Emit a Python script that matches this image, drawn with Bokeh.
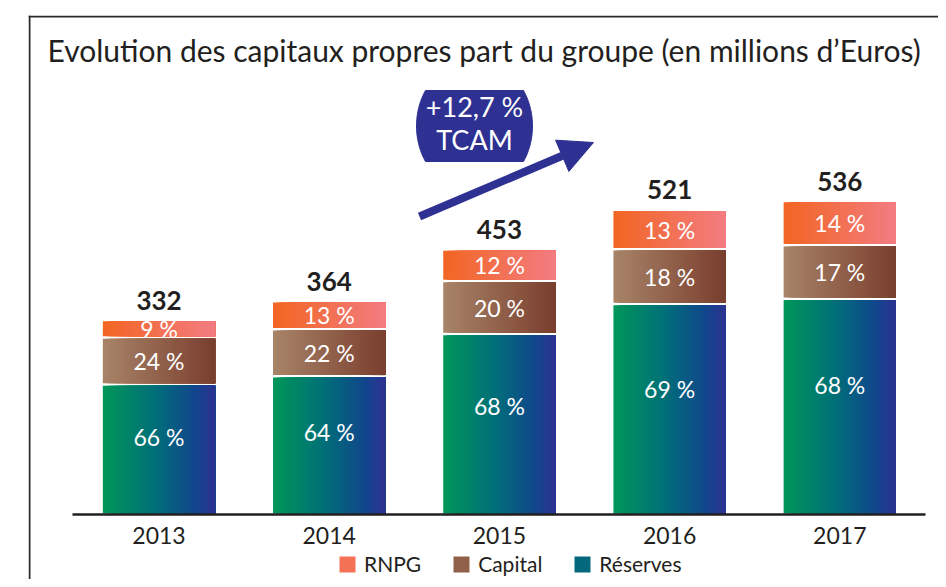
import numpy as np
from bokeh.plotting import figure
from bokeh.models import (Range1d, ColumnDataSource, Legend, LegendItem, Arrow,
                          NormalHead, Span)
from bokeh.core.properties import value
from bokeh.embed import file_html
from bokeh.resources import INLINE

# ---------------- data ----------------
years = ["2013", "2014", "2015", "2016", "2017"]
totals = [332, 364, 453, 521, 536]
reserves_pct = [66, 64, 68, 69, 68]
capital_pct = [24, 22, 20, 18, 17]
rnpg_pct = [9, 13, 12, 13, 14]
legend_labels = ["RNPG", "Capital", "Réserves"]
growth_label = "+12,7 %"
growth_sub = "TCAM"
title_text = "Evolution des capitaux propres part du groupe (en millions d\u2019Euros)"

# ---------------- styling ----------------
FONT_NAME = "Lato"
FONT = value(FONT_NAME)
DARK = "#231f20"
NAVY = "#2e3192"
grad_reserves = [(0.0, (0, 150, 88)), (0.45, (0, 112, 120)), (0.8, (16, 72, 140)), (1.0, (46, 49, 146))]
grad_capital = [(0.0, (168, 132, 104)), (1.0, (122, 62, 46))]
grad_rnpg = [(0.0, (242, 101, 34)), (1.0, (243, 124, 130))]

W, H = 938, 579
FL, FT = 28, 15  # frame left / top in canvas pixels

# pixel -> data helpers (layout only)
def X(px):
    return (px - 158.5) / 170.2

def Y(py):
    return (513 - py) / 0.583

def grad(stops, t):
    for (t0, c0), (t1, c1) in zip(stops[:-1], stops[1:]):
        if t <= t1:
            f = (t - t0) / (t1 - t0)
            c = [round(a + (b - a) * f) for a, b in zip(c0, c1)]
            return "#%02x%02x%02x" % tuple(c)
    return "#%02x%02x%02x" % stops[-1][1]

p = figure(width=W, height=H,
           x_range=Range1d(X(FL), X(W)), y_range=Range1d(Y(H), Y(FT)),
           x_axis_type=None, y_axis_type=None,
           min_border_left=FL, min_border_top=FT, min_border_right=0, min_border_bottom=0,
           output_backend="svg", toolbar_location=None)
p.outline_line_color = None
p.background_fill_color = "white"

# frame lines (left and top)
p.add_layout(Span(location=X(FL + 1), dimension="height", line_color="#2b2b2b", line_width=2))
p.add_layout(Span(location=Y(FT + 1), dimension="width", line_color="#2b2b2b", line_width=2))

# ---------------- stacked bars with gradient strips ----------------
N = 30
BW = 0.66
GAP = 4.3
series = [("Réserves", reserves_pct, grad_reserves),
          ("Capital", capital_pct, grad_capital),
          ("RNPG", rnpg_pct, grad_rnpg)]

renderers = {}
label_x, label_y, label_t = [], [], []
cum = [0.0] * len(years)
for si, (name, pcts, stops) in enumerate(series):
    L, R, B, T, C = [], [], [], [], []
    for i, tot in enumerate(totals):
        s = reserves_pct[i] + capital_pct[i] + rnpg_pct[i]
        v = pcts[i] / s * tot
        bot = cum[i] + (GAP / 2 if si > 0 else 0)
        top = cum[i] + v - GAP / 2
        cum[i] += v
        left = i - BW / 2
        right = i + BW / 2
        for k in range(N):
            L.append(left + k * BW / N)
            R.append(right)
            B.append(bot)
            T.append(top)
            C.append(grad(stops, (k + 0.5) / N))
        label_x.append(i)
        frac = 0.6 if si == 0 else 0.5
        label_y.append(bot + frac * (top - bot))
        label_t.append(f"{pcts[i]} %")
    src = ColumnDataSource(dict(left=L, right=R, bottom=B, top=T, color=C))
    renderers[name] = p.quad(left="left", right="right", bottom="bottom", top="top",
                             fill_color="color", line_color=None, source=src)

# percentage labels
p.text(x=label_x, y=label_y, text=label_t, text_color="white", text_font=FONT,
       text_font_size="23px", text_align="center", text_baseline="middle")

# totals
p.text(x=list(range(len(years))), y=[t + 34 for t in totals], text=[str(t) for t in totals],
       text_color=DARK, text_font=FONT, text_font_style="bold", text_font_size="26px",
       text_align="center", text_baseline="middle")

# axis line and year labels
p.segment(x0=[X(72)], x1=[X(925)], y0=[Y(514)], y1=[Y(514)], line_color=DARK, line_width=2.5)
p.text(x=list(range(len(years))), y=[Y(535)] * len(years), text=years, text_color=DARK,
       text_font=FONT, text_font_size="23px", text_align="center", text_baseline="middle")

# title
p.text(x=[X(47)], y=[Y(49)], text=[title_text], text_color=DARK, text_font=FONT,
       text_font_size="30px", text_align="left", text_baseline="middle")

# growth badge
cx, cy, a, b, h = 474, 125.5, 58, 66.4, 35.5
ys = np.linspace(-h, h, 40)
xs = a * np.sqrt(1 - (ys / b) ** 2)
bx = [X(cx + x) for x in xs] + [X(cx - x) for x in xs[::-1]]
by = [Y(cy + y) for y in ys] + [Y(cy + y) for y in ys[::-1]]
p.patch(bx, by, fill_color=NAVY, line_color=NAVY)
p.text(x=[X(474), X(474)], y=[Y(106), Y(139)], text=[growth_label, growth_sub],
       text_color="white", text_font=FONT, text_font_size="27px",
       text_align="center", text_baseline="middle")

p.add_layout(Arrow(x_start=X(419), y_start=Y(216), x_end=X(593), y_end=Y(142),
                   line_color=NAVY, line_width=8,
                   end=NormalHead(size=34, fill_color=NAVY, line_color=NAVY)))

# legend
items = [LegendItem(label=legend_labels[0], renderers=[renderers["RNPG"]], index=N // 2),
         LegendItem(label=legend_labels[1], renderers=[renderers["Capital"]], index=N // 2),
         LegendItem(label=legend_labels[2], renderers=[renderers["Réserves"]], index=N // 2)]
legend = Legend(items=items, orientation="horizontal", location=(337 - FL, 3),
                glyph_width=20, glyph_height=20, label_text_font_size="21px",
                label_text_font=FONT_NAME, label_text_color=DARK, spacing=30, padding=0,
                margin=0, border_line_color=None, background_fill_alpha=0, label_standoff=7)
p.add_layout(legend)

open("out.html", "w").write(file_html(p, INLINE))
